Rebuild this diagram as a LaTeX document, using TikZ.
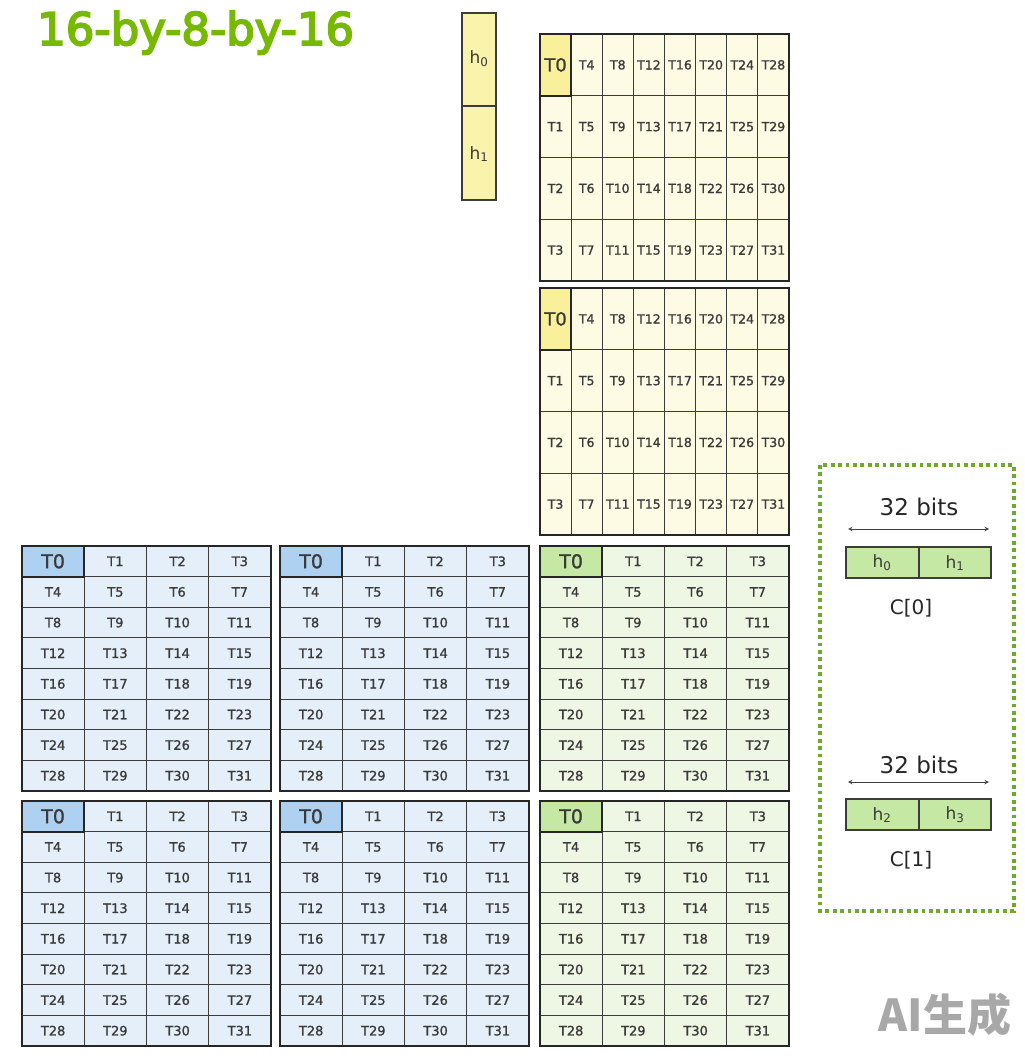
\documentclass[tikz,border=0pt]{standalone}
\usepackage{fontspec}
\setmainfont{DejaVu Sans}
\newfontfamily\titlefont{DejaVu Sans}[FakeBold=4]
\newfontfamily\cellfont{DejaVu Sans}[FakeBold=1.2]
\newfontfamily\cjkfont{Noto Sans CJK SC}
\definecolor{ybg}{HTML}{FDFBE3}
\definecolor{ytz}{HTML}{FAF09C}
\definecolor{hfill}{HTML}{FAF3AC}
\definecolor{bbg}{HTML}{E4EFFA}
\definecolor{btz}{HTML}{AFD1F1}
\definecolor{gbg}{HTML}{EEF7E3}
\definecolor{gtz}{HTML}{C6E8A5}
\definecolor{titlegreen}{HTML}{76B900}
\definecolor{dashgreen}{HTML}{6FA82E}
\definecolor{txt}{HTML}{3A3A3A}
\definecolor{gridc}{HTML}{3C3C3C}
\definecolor{wm}{HTML}{A8A8A8}
\tikzset{
  innerline/.style={draw=gridc, line width=1.1pt},
  outerline/.style={draw=black!85, line width=2.4pt},
  tzline/.style={draw=black!85, line width=2pt},
  smallt/.style={font=\cellfont\fontsize{12.5}{12.5}\selectfont, text=txt, inner sep=0pt},
  bigt/.style={font=\cellfont\fontsize{18}{18}\selectfont, text=txt, inner sep=0pt},
  hlabel/.style={font=\fontsize{17}{17}\selectfont, text=txt, inner sep=0pt},
  bitlabel/.style={font=\fontsize{23}{23}\selectfont, text=black!85, inner sep=0pt},
  clabel/.style={font=\fontsize{20}{20}\selectfont, text=black!85, inner sep=0pt},
  regbox/.style={draw=gridc, line width=1.2pt, fill=gtz},
  bitarrow/.style={<->, >=stealth, line width=1pt, black!75},
}
\newcommand\ygrid[3]{%
  \fill[ybg] (#1,#2) rectangle ++(249,247);
  \fill[ytz] (#1,#2) rectangle ++(31.125,61.75);
  \foreach \i in {1,...,7} \draw[innerline] ({#1+\i*31.125},#2) -- ++(0,247);
  \foreach \j in {1,...,3} \draw[innerline] (#1,{#2+\j*61.75}) -- ++(249,0);
  \draw[tzline] (#1,#2) rectangle ++(31.125,61.75);
  \draw[outerline] (#1,#2) rectangle ++(249,247);
  \foreach \c in {0,...,7}{\foreach \r in {0,...,3}{%
    \pgfmathtruncatemacro\n{4*\c+\r}%
    \ifnum\n=0
      \node[bigt] (#3-\n) at ({#1+(\c+0.5)*31.125},{#2+(\r+0.5)*61.75}) {T0};
    \else
      \node[smallt] (#3-\n) at ({#1+(\c+0.5)*31.125},{#2+(\r+0.5)*61.75}) {T\n};
    \fi
  }}
}
\newcommand\tgrid[5]{%
  \fill[#3] (#1,#2) rectangle ++(249,245);
  \fill[#4] (#1,#2) rectangle ++(62.25,30.625);
  \foreach \i in {1,...,3} \draw[innerline] ({#1+\i*62.25},#2) -- ++(0,245);
  \foreach \j in {1,...,7} \draw[innerline] (#1,{#2+\j*30.625}) -- ++(249,0);
  \draw[tzline] (#1,#2) rectangle ++(62.25,30.625);
  \draw[outerline] (#1,#2) rectangle ++(249,245);
  \foreach \r in {0,...,7}{\foreach \c in {0,...,3}{%
    \pgfmathtruncatemacro\n{4*\r+\c}%
    \ifnum\n=0
      \node[bigt, font=\cellfont\fontsize{19}{19}\selectfont] (#5-\n) at ({#1+(\c+0.5)*62.25},{#2+(\r+0.5)*30.625}) {T0};
    \else
      \node[smallt, font=\cellfont\fontsize{13}{13}\selectfont] (#5-\n) at ({#1+(\c+0.5)*62.25},{#2+(\r+0.5)*30.625}) {T\n};
    \fi
  }}
}
\begin{document}
\begin{tikzpicture}[x=1pt,y=-1pt]
\useasboundingbox[fill=white] (0,0) rectangle (1024,1056);

% title
\node[anchor=base west, inner sep=0pt, text=titlegreen,
      font=\titlefont\fontsize{45}{45}\selectfont] (title) at (37,45) {16-by-8-by-16};

% h0/h1 column
\draw[draw=gridc, line width=1.2pt, fill=hfill] (462,13) rectangle (496,200);
\draw[draw=gridc, line width=1.2pt] (462,106) -- (496,106);
\node[hlabel] (h0) at (479,59) {h\textsubscript{0}};
\node[hlabel] (h1) at (479,154) {h\textsubscript{1}};

% yellow (B) tiles
\ygrid{540}{34}{ya}
\ygrid{540}{288}{yb}

% blue (A) and green (C) tiles
\tgrid{22}{546}{bbg}{btz}{ba}
\tgrid{280}{546}{bbg}{btz}{bb}
\tgrid{540}{546}{gbg}{gtz}{ga}
\tgrid{22}{801}{bbg}{btz}{bc}
\tgrid{280}{801}{bbg}{btz}{bd}
\tgrid{540}{801}{gbg}{gtz}{gb}

% dashed register box
\draw[dashgreen, line width=4pt, dash pattern=on 3.8pt off 3.6pt] (820,465) rectangle (1014,911);

% C[0]
\node[bitlabel] (bits0) at (919,507) {32 bits};
\coordinate (a0l) at (848,529);
\coordinate (a0r) at (989,529);
\draw[bitarrow] (a0l) -- (a0r);
\draw[regbox] (846,547) rectangle (991,578);
\draw[draw=gridc, line width=1.2pt] (919,547) -- (919,578);
\node[hlabel] (c0h0) at (882,563) {h\textsubscript{0}};
\node[hlabel] (c0h1) at (955,563) {h\textsubscript{1}};
\node[clabel] (c0) at (911,608) {C[0]};

% C[1]
\node[bitlabel] (bits1) at (919,765) {32 bits};
\coordinate (a1l) at (848,782);
\coordinate (a1r) at (989,782);
\draw[bitarrow] (a1l) -- (a1r);
\draw[regbox] (846,799) rectangle (991,830);
\draw[draw=gridc, line width=1.2pt] (919,799) -- (919,830);
\node[hlabel] (c1h2) at (882,815) {h\textsubscript{2}};
\node[hlabel] (c1h3) at (955,815) {h\textsubscript{3}};
\node[clabel] (c1) at (911,860) {C[1]};

% watermark
\node[text=wm, inner sep=0pt, font=\cjkfont\bfseries\fontsize{44}{44}\selectfont] (wmark) at (945,1015) {AI生成};
\end{tikzpicture}
\end{document}
